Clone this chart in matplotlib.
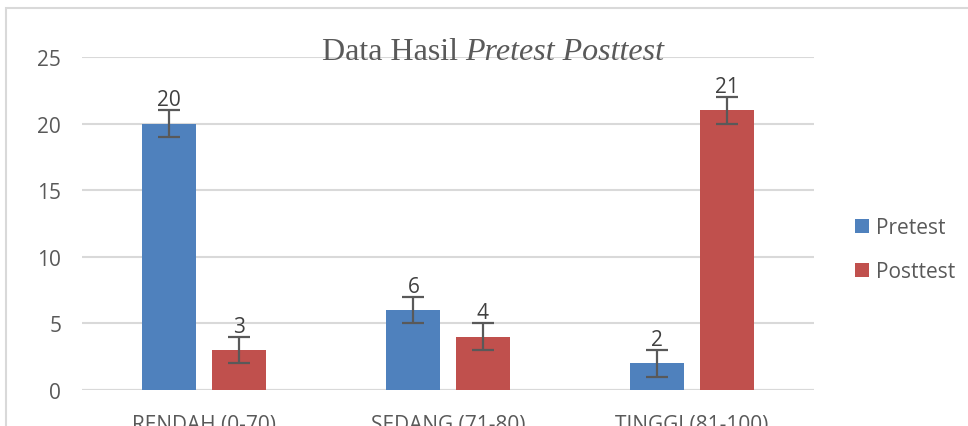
import matplotlib
matplotlib.use("Agg")
import matplotlib.pyplot as plt
import numpy as np
from matplotlib.patches import Rectangle

categories = ["RENDAH (0-70)", "SEDANG (71-80)", "TINGGI (81-100)"]
pretest = [20, 6, 2]
posttest = [3, 4, 21]
err = [1, 1, 1]
yticks = [0, 5, 10, 15, 20, 25]

BLUE = "#4F81BD"
RED = "#C0504D"
TXT = "#595959"

plt.rcParams["font.family"] = ["Open Sans", "DejaVu Sans"]

fig = plt.figure(figsize=(9.68, 4.27), dpi=100)
# chart frame (cropped on right and bottom)
fig.patches.append(Rectangle((6 / 968, -0.1), 1.1, 1 - 9 / 427 + 0.1,
                             transform=fig.transFigure, fill=False,
                             edgecolor="#D9D9D9", lw=1.5))

ax = fig.add_axes([82 / 968, 1 - 391 / 427, 732 / 968, (391 - 58) / 427])
x = np.arange(len(categories))
w = 0.222
off = 0.142
ekw = dict(ecolor="#595959", elinewidth=1.6, capsize=8, capthick=1.6)
ax.bar(x - off, pretest, w, color=BLUE, yerr=err, error_kw=ekw,
       label="Pretest", zorder=3)
ax.bar(x + off, posttest, w, color=RED, yerr=err, error_kw=ekw,
       label="Posttest", zorder=3)

# data labels above error bars
for xs, vals in ((x - off, pretest), (x + off, posttest)):
    for xi, v in zip(xs, vals):
        ax.annotate(str(v), (xi, v + 1), xytext=(0, 0), textcoords="offset points",
                    ha="center", va="bottom", fontsize=15, color="#404040")

ax.set_ylim(0, 25)
ax.set_xlim(-0.5, 2.5)
ax.set_yticks(yticks)
ax.set_xticks(x)
ax.set_xticklabels(categories)
ax.yaxis.grid(True, color="#D9D9D9", lw=1.5, zorder=0)
for s in ax.spines.values():
    s.set_visible(False)
ax.axhline(0, color="#D9D9D9", lw=1.5, zorder=1)
ax.tick_params(length=0, labelsize=15, colors=TXT)
ax.tick_params(axis="y", pad=15)
ax.tick_params(axis="x", pad=17)

fig.text(0.473, 1 - 60 / 427, "Data Hasil", ha="right", va="baseline",
         family="Liberation Serif", fontsize=23, color=TXT)
fig.text(465 / 968, 1 - 60 / 427, "Pretest Posttest", ha="left", va="baseline",
         family="Liberation Serif", style="italic", fontsize=23, color=TXT)

ax.legend(loc="center left", bbox_to_anchor=(845 / 968, 1 - 250.5 / 427),
          bbox_transform=fig.transFigure, frameon=False, borderpad=0,
          fontsize=15, labelcolor=TXT, handlelength=0.67, handleheight=0.67,
          labelspacing=1.1, handletextpad=0.3)

fig.savefig("out.png", dpi=100)
